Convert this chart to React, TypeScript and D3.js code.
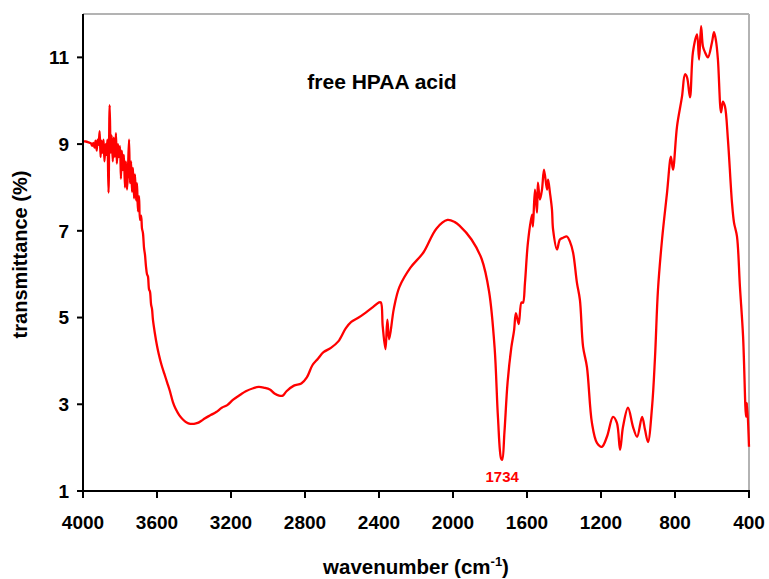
import React from "react";
import * as d3 from "d3";

const wavenumbers: number[] = [
  4000, 3985, 3970, 3958, 3950, 3944, 3938, 3932, 3926, 3921, 3916, 3910, 3905, 3900, 3895, 3889,
  3884, 3878, 3873, 3868, 3862, 3856, 3850, 3845, 3839, 3834, 3828, 3822, 3817, 3811, 3806, 3800,
  3795, 3790, 3784, 3779, 3773, 3768, 3762, 3757, 3751, 3746, 3740, 3735, 3730, 3724, 3719, 3713,
  3708, 3703, 3697, 3692, 3686, 3681, 3676, 3670, 3665, 3660, 3654, 3649, 3643, 3638, 3632, 3627,
  3622, 3612, 3600, 3590, 3575, 3560, 3545, 3530, 3514, 3500, 3480, 3460, 3440, 3420, 3400, 3380,
  3360, 3340, 3310, 3280, 3250, 3220, 3190, 3150, 3120, 3080, 3050, 3020, 2990, 2965, 2940, 2920,
  2900, 2860, 2820, 2790, 2760, 2730, 2700, 2660, 2620, 2580, 2550, 2510, 2470, 2430, 2400, 2390,
  2380, 2365, 2355, 2345, 2320, 2290, 2230, 2160, 2090, 2030, 1990, 1965, 1900, 1845, 1805, 1775,
  1757, 1740, 1734, 1722, 1705, 1685, 1670, 1660, 1645, 1630, 1622, 1611, 1595, 1573, 1568, 1557,
  1546, 1541, 1530, 1519, 1508, 1492, 1486, 1476, 1465, 1459, 1438, 1422, 1405, 1384, 1368, 1351,
  1330, 1314, 1297, 1276, 1249, 1222, 1195, 1168, 1135, 1114, 1097, 1081, 1054, 1027, 1005, 978,
  962, 946, 924, 908, 892, 870, 843, 822, 811, 789, 762, 746, 735, 719, 703, 681,
  670, 659, 649, 638, 622, 600, 589, 578, 568, 551, 541, 530, 514, 492, 481, 465,
  449, 432, 416, 411, 400,
];

const transmittance: number[] = [
  9.06, 9.06, 9.04, 9.02, 8.96, 9.03, 8.92, 9.08, 8.85, 9.1, 8.98, 9.3, 8.7, 9.08, 8.8, 9.1,
  8.6, 9.0, 8.75, 9.1, 7.88, 9.9, 8.8, 9.2, 8.6, 9.15, 8.7, 9.25, 8.55, 9.0, 8.7, 8.95,
  8.2, 8.85, 8.4, 8.75, 8.0, 8.6, 7.95, 8.4, 9.1, 8.1, 8.6, 7.9, 8.45, 7.75, 8.3, 7.7,
  8.1, 7.45, 7.8, 7.25, 7.35, 7.05, 6.95, 6.6, 6.45, 6.2, 6.0, 5.95, 5.65, 5.6, 5.3, 5.2,
  4.95, 4.65, 4.35, 4.15, 3.9, 3.7, 3.5, 3.3, 3.05, 2.9, 2.75, 2.65, 2.58, 2.55, 2.55, 2.57,
  2.62, 2.68, 2.75, 2.82, 2.92, 2.98, 3.1, 3.22, 3.3, 3.37, 3.4, 3.38, 3.34, 3.25, 3.2, 3.2,
  3.3, 3.43, 3.48, 3.62, 3.9, 4.05, 4.2, 4.3, 4.45, 4.75, 4.9, 5.0, 5.12, 5.25, 5.35, 5.35,
  4.8, 4.27, 4.95, 4.5, 5.2, 5.7, 6.15, 6.5, 7.05, 7.25, 7.2, 7.12, 6.8, 6.35, 5.6, 4.3,
  2.7, 1.75, 1.72, 2.35, 3.5, 4.3, 4.7, 5.1, 4.85, 5.35, 5.34, 5.8, 6.73, 7.37, 7.1, 7.95,
  7.42, 8.11, 7.72, 7.95, 8.41, 7.95, 8.18, 7.88, 7.49, 7.03, 6.57, 6.8, 6.84, 6.87, 6.75, 6.5,
  5.8, 5.41, 4.33, 3.86, 2.57, 2.11, 2.02, 2.25, 2.71, 2.57, 1.95, 2.48, 2.92, 2.48, 2.25, 2.71,
  2.41, 2.13, 2.94, 4.09, 5.64, 6.8, 7.88, 8.71, 8.41, 9.41, 10.1, 10.61, 10.54, 10.08, 11.12, 11.53,
  10.95, 11.72, 11.25, 11.12, 11.0, 11.35, 11.58, 11.37, 10.95, 9.73, 9.98, 9.87, 9.11, 7.65, 7.19, 6.87,
  5.71, 4.56, 2.71, 3.03, 2.02,
];

const xTicks: number[] = [4000, 3600, 3200, 2800, 2400, 2000, 1600, 1200, 800, 400];
const yTicks: number[] = [1, 3, 5, 7, 9, 11];

const titleText = "free HPAA acid";
const peakLabel = "1734";
const peakWavenumber = 1734;
const peakValue = 1.72;

const W = 769;
const H = 579;
const L = 83;
const R = 749;
const T = 14;
const B = 491;
const FONT = "'Liberation Sans', Arial, Helvetica, sans-serif";

export default function App() {
  const x = d3.scaleLinear().domain([4000, 400]).range([L, R]);
  const y = d3.scaleLinear().domain([1, 12]).range([B, T]);
  const data = wavenumbers.map((w, i) => [w, transmittance[i]] as [number, number]);
  const line = d3
    .line<[number, number]>()
    .x((d) => x(d[0]))
    .y((d) => y(d[1]))
    .curve(d3.curveCatmullRom.alpha(0.5));

  return (
    <div>
      <style>{`body{margin:0}`}</style>
      <svg width={W} height={H} style={{ display: "block", background: "#fff" }}>
        {/* frame top/right */}
        <line x1={L} x2={R} y1={T} y2={T} stroke="#b3b3b3" strokeWidth={2} />
        <line x1={R} x2={R} y1={T} y2={B} stroke="#b3b3b3" strokeWidth={2} />
        {/* data */}
        <path d={line(data) || ""} fill="none" stroke="#ff0000" strokeWidth={2.3} strokeLinejoin="round" />
        {/* axes */}
        <line x1={L} x2={L} y1={T} y2={B + 1} stroke="#000" strokeWidth={2} />
        <line x1={L - 1} x2={R + 1} y1={B} y2={B} stroke="#000" strokeWidth={2} />
        {yTicks.map((t) => (
          <g key={"y" + t}>
            <line x1={L - 6} x2={L} y1={y(t)} y2={y(t)} stroke="#000" strokeWidth={2} />
            <text
              x={L - 14}
              y={y(t)}
              dy="0.36em"
              textAnchor="end"
              fontFamily={FONT}
              fontWeight="bold"
              fontSize={19}
            >
              {t}
            </text>
          </g>
        ))}
        {xTicks.map((t) => (
          <g key={"x" + t}>
            <line x1={x(t)} x2={x(t)} y1={B} y2={B + 7} stroke="#000" strokeWidth={2} />
            <text
              x={x(t)}
              y={B + 38}
              textAnchor="middle"
              fontFamily={FONT}
              fontWeight="bold"
              fontSize={19}
            >
              {t}
            </text>
          </g>
        ))}
        <text x={416} y={574} textAnchor="middle" fontFamily={FONT} fontWeight="bold" fontSize={20.5}>
          wavenumber (cm
          <tspan dy={-8} fontSize={13}>-1</tspan>
          <tspan dy={8}>)</tspan>
        </text>
        <text
          transform={`translate(27, ${(T + B) / 2 + 2}) rotate(-90)`}
          textAnchor="middle"
          fontFamily={FONT}
          fontWeight="bold"
          fontSize={20}
        >
          transmittance (%)
        </text>
        <text x={382} y={89} textAnchor="middle" fontFamily={FONT} fontWeight="bold" fontSize={21}>
          {titleText}
        </text>
        <text
          x={x(peakWavenumber)}
          y={y(peakValue) + 22}
          textAnchor="middle"
          fontFamily={FONT}
          fontWeight="bold"
          fontSize={15}
          fill="#ff0000"
        >
          {peakLabel}
        </text>
      </svg>
    </div>
  );
}
